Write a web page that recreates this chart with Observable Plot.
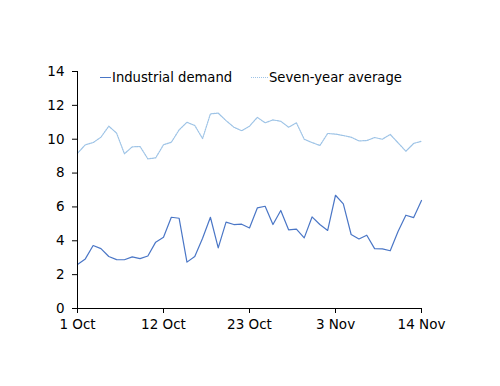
<!DOCTYPE html>
<html>
<head>
<meta charset="utf-8">
<script src="https://cdn.jsdelivr.net/npm/d3@7"></script>
<script src="https://cdn.jsdelivr.net/npm/@observablehq/plot@0.6"></script>
<style>
  html, body { margin: 0; padding: 0; background: #fff; }
  #wrap { position: relative; width: 500px; height: 386px; font-family: "DejaVu Sans", Verdana, sans-serif; }
  #legend { position: absolute; top: 70px; left: 100px; font-size: 13.2px; color: #000; white-space: nowrap; }
  .item { position: absolute; top: 0; display: flex; align-items: center; }
  .swatch { display: inline-block; width: 11px; height: 0; margin-right: 1px; }
</style>
</head>
<body>
<div id="wrap">
  <div id="chart"></div>
  <div id="legend"></div>
</div>
<script>
const seriesNames = ["Industrial demand", "Seven-year average"];
const tickLabels = ["1 Oct", "12 Oct", "23 Oct", "3 Nov", "14 Nov"];
const tickDays = [0, 11, 22, 33, 44];
const yTicks = [0, 2, 4, 6, 8, 10, 12, 14];
const industrial = [2.6, 2.93, 3.72, 3.54, 3.07, 2.89, 2.88, 3.05, 2.95, 3.1,
  3.92, 4.21, 5.39, 5.33, 2.74, 3.07, 4.15, 5.39, 3.58, 5.1,
  4.96, 4.98, 4.76, 5.94, 6.04, 4.96, 5.79, 4.65, 4.69, 4.17,
  5.41, 4.96, 4.61, 6.69, 6.18, 4.37, 4.11, 4.33, 3.54, 3.52,
  3.41, 4.55, 5.51, 5.37, 6.38];
const sevenYear = [9.17, 9.67, 9.8, 10.12, 10.77, 10.36, 9.14, 9.55, 9.57, 8.84,
  8.9, 9.67, 9.82, 10.55, 11.0, 10.81, 10.04, 11.5, 11.54, 11.1,
  10.71, 10.5, 10.77, 11.29, 10.97, 11.14, 11.06, 10.71, 10.97, 10.0,
  9.8, 9.63, 10.34, 10.3, 10.22, 10.12, 9.9, 9.92, 10.1, 10.0,
  10.28, 9.79, 9.29, 9.75, 9.88];
const colors = ["#4a76c6", "#9dc3e6"];
const dashes = [null, "1.5,1"];

const rows = industrial.map((v, i) => ({day: i, industrial: v, seven: sevenYear[i]}));
const fmtX = (d) => tickLabels[tickDays.indexOf(d)];

const chart = Plot.plot({
  width: 500,
  height: 386,
  marginLeft: 77,
  marginRight: 79,
  marginTop: 71,
  marginBottom: 78,
  style: {fontFamily: "'DejaVu Sans', Verdana, sans-serif", fontSize: "13.5px", color: "#000", background: "#fff"},
  x: {domain: [0, 44], label: null},
  y: {domain: [0, 14], label: null},
  marks: [
    Plot.line(rows, {x: "day", y: "seven", stroke: colors[1], strokeWidth: 1.2, strokeDasharray: dashes[1]}),
    Plot.line(rows, {x: "day", y: "industrial", stroke: colors[0], strokeWidth: 1.2}),
    Plot.ruleX([0], {stroke: "#000"}),
    Plot.ruleY([0], {stroke: "#000"}),
    Plot.axisX({ticks: tickDays, tickFormat: fmtX, tickSize: 5, tickPadding: 6, label: null, stroke: "#000"}),
    Plot.axisY({ticks: yTicks, tickSize: 5, tickPadding: 8, label: null})
  ]
});
document.getElementById("chart").appendChild(chart);

const legend = document.getElementById("legend");
const offsets = [0, 151];
seriesNames.forEach((name, i) => {
  const item = document.createElement("div");
  item.className = "item";
  item.style.left = offsets[i] + "px";
  const sw = document.createElement("span");
  sw.className = "swatch";
  sw.style.borderTop = "1.2px " + (dashes[i] ? "dotted " : "solid ") + colors[i];
  sw.style.width = (i === 0 ? 11 : 17) + "px";
  item.appendChild(sw);
  const t = document.createElement("span");
  t.textContent = name;
  item.appendChild(t);
  legend.appendChild(item);
});
</script>
</body>
</html>
